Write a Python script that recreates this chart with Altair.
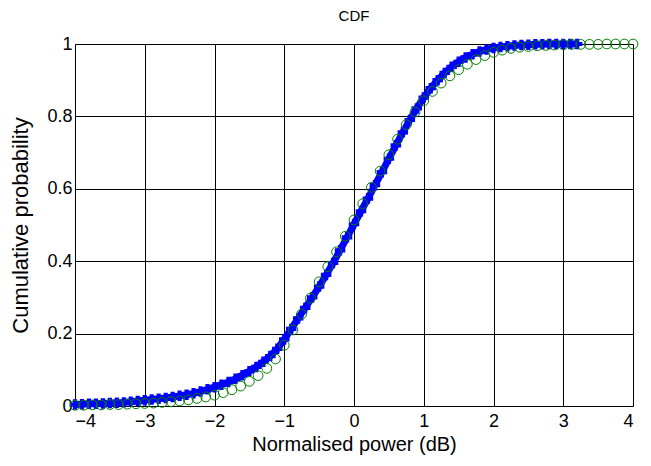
import altair as alt
import pandas as pd

# Green circles (theoretical CDF)
green_x = [-4.0 + 0.125 * i for i in range(65)]
green_y = [0.002, 0.002, 0.003, 0.003, 0.004, 0.004, 0.005, 0.006, 0.007, 0.008,
           0.010, 0.012, 0.014, 0.017, 0.021, 0.025, 0.030, 0.037, 0.045, 0.055,
           0.068, 0.084, 0.104, 0.130, 0.168, 0.210, 0.254, 0.298, 0.343, 0.385,
           0.426, 0.469, 0.514, 0.559, 0.604, 0.649, 0.694, 0.737, 0.777, 0.812,
           0.843, 0.869, 0.892, 0.912, 0.929, 0.944, 0.957, 0.968, 0.977, 0.983,
           0.988, 0.991, 0.993, 0.995, 0.996, 0.997, 0.998, 0.999, 0.999, 0.999,
           0.999, 1.000, 1.000, 1.000, 1.000]

# Blue plus markers (empirical CDF)
blue_x = [round(-4.0 + 0.1 * i, 2) for i in range(73)]
blue_y = [0.004, 0.005, 0.006, 0.006, 0.007, 0.008, 0.009, 0.010, 0.012, 0.014,
          0.016, 0.018, 0.020, 0.022, 0.025, 0.028, 0.031, 0.035, 0.040, 0.046,
          0.052, 0.059, 0.066, 0.075, 0.085, 0.096, 0.108, 0.122, 0.138, 0.158,
          0.184, 0.213, 0.242, 0.271, 0.300, 0.330, 0.362, 0.395, 0.430, 0.466,
          0.502, 0.538, 0.573, 0.610, 0.646, 0.683, 0.720, 0.756, 0.790, 0.822,
          0.852, 0.878, 0.900, 0.920, 0.937, 0.951, 0.963, 0.972, 0.979, 0.985,
          0.989, 0.992, 0.994, 0.996, 0.997, 0.998, 0.999, 0.999, 1.000, 1.000,
          1.000, 1.000, 1.000]

green = pd.DataFrame({"x": green_x, "y": green_y})
blue = pd.DataFrame({"x": blue_x, "y": blue_y})

FONT = "Liberation Sans"

xs = alt.Scale(domain=[-4, 4], nice=False, zero=False)
ys = alt.Scale(domain=[0, 1], nice=False)

xaxis = alt.Axis(values=[-4, -3, -2, -1, 0, 1, 2, 3, 4], format="~g",
                 title="Normalised power (dB)", grid=True, gridColor="black",
                 gridOpacity=1, gridWidth=1, ticks=False, domain=False,
                 labelFont=FONT, labelFontSize=18, labelColor="black",
                 labelPadding=6, titleFont=FONT, titleFontSize=20,
                 titleFontWeight="normal", titleColor="black", titlePadding=4)
yaxis = alt.Axis(values=[0, 0.2, 0.4, 0.6, 0.8, 1], format="~g",
                 title="Cumulative probability", grid=True, gridColor="black",
                 gridOpacity=1, gridWidth=1, ticks=False, domain=False,
                 labelFont=FONT, labelFontSize=18, labelColor="black",
                 labelPadding=3, titleFont=FONT, titleFontSize=22,
                 titleFontWeight="normal", titleColor="black", titlePadding=14)

blue_line = alt.Chart(blue).mark_line(color="#0000ff", strokeWidth=7).encode(
    x=alt.X("x:Q", scale=xs, axis=xaxis), y=alt.Y("y:Q", scale=ys, axis=yaxis))
blue_pts = alt.Chart(blue).mark_point(shape="cross", filled=True, color="#0000ff",
                                      size=110, opacity=1).encode(x="x:Q", y="y:Q")
green_pts = alt.Chart(green).mark_point(shape="circle", filled=False, color="#008000",
                                        size=95, strokeWidth=1, opacity=1).encode(x="x:Q", y="y:Q")

chart = (blue_line + blue_pts + green_pts).properties(
    width=558, height=362,
    title=alt.TitleParams("CDF", font=FONT, fontSize=15, fontWeight="normal",
                          color="black", offset=6),
    autosize=alt.AutoSizeParams(type="none"),
    padding={"left": 67, "top": 36, "right": 10, "bottom": 52},
).configure_view(stroke="black", strokeWidth=1.5).configure(background="white")

chart.save("out.html", embed_options={"renderer": "svg", "actions": False})
